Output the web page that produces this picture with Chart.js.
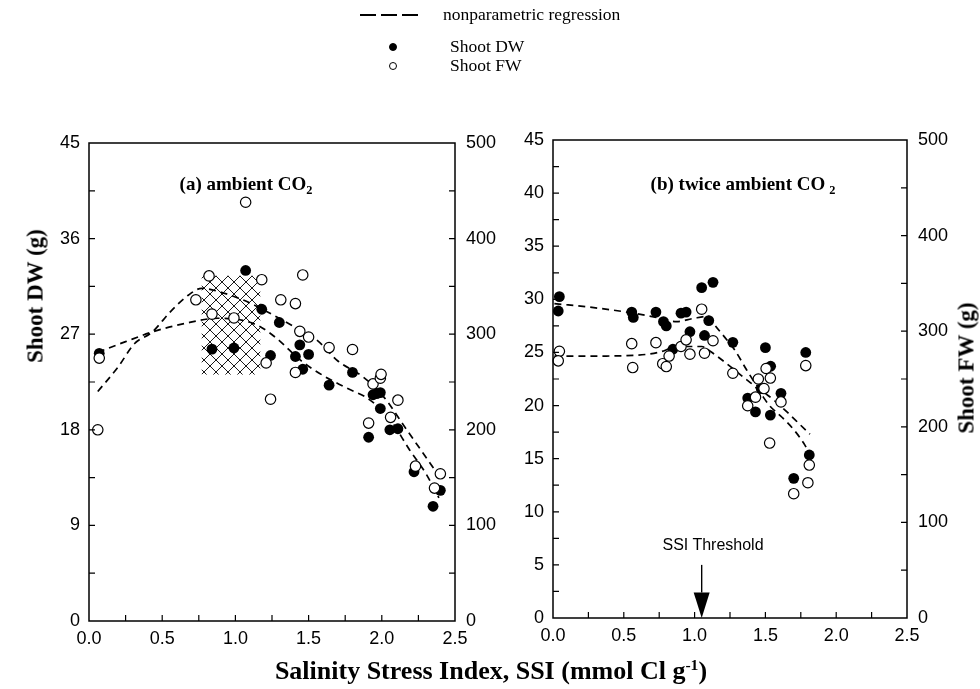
<!DOCTYPE html>
<html>
<head>
<meta charset="utf-8">
<title>Shoot DW / FW vs Salinity Stress Index</title>
<script src="https://cdn.jsdelivr.net/npm/chart.js@4.4.1/dist/chart.umd.min.js"></script>
<style>
  html, body { margin: 0; padding: 0; background: #fff; }
  #page { position: relative; width: 980px; height: 689px; overflow: hidden; background: #fff;
          font-family: 'Liberation Serif', 'Times New Roman', serif; color: #000; }
  .panel { position: absolute; top: 0; left: 0; width: 980px; height: 689px; }
  .lbl { position: absolute; white-space: nowrap; line-height: 1; }
  .center { transform: translate(-50%, -50%); }
  .leftmid { transform: translateY(-50%); }
  .legend { font-size: 17.5px; }
  .ptitle { font-size: 19px; font-weight: bold; }
  .axtitle { font-size: 23px; font-weight: bold; }
  .xtitle { font-size: 26px; font-weight: bold; }
  .rot { transform: translate(-50%, -50%) rotate(-90deg); }
  .sub { font-size: 0.65em; position: relative; top: 0.35em; }
  .sup { font-size: 0.6em; position: relative; top: -0.6em; }
  .dash { position: absolute; height: 2px; width: 58px;
          background: repeating-linear-gradient(to right, #000 0 16px, transparent 16px 21px); }
  .dot { position: absolute; width: 8px; height: 8px; border-radius: 50%; box-sizing: border-box;
         transform: translate(-50%, -50%); border: 1px solid #000; }
  .sans { font-family: 'Liberation Sans', Arial, sans-serif; font-size: 16px; }
</style>
</head>
<body>
<div id="page">
  <div class="panel"><canvas id="chartA" width="980" height="689"></canvas></div>
  <div class="panel"><canvas id="chartB" width="980" height="689"></canvas></div>

  <div class="dash" style="left:360px; top:14px"></div>
  <div class="lbl legend leftmid" style="left:443px; top:15px">nonparametric regression</div>
  <div class="dot" style="left:393px; top:47px; background:#000"></div>
  <div class="lbl legend leftmid" style="left:450px; top:47px">Shoot DW</div>
  <div class="dot" style="left:393px; top:66px; background:#fff"></div>
  <div class="lbl legend leftmid" style="left:450px; top:66px">Shoot FW</div>

  <div class="lbl ptitle center" style="left:246px; top:183px">(a) ambient CO<span class="sub">2</span></div>
  <div class="lbl ptitle center" style="left:743px; top:183px">(b) twice ambient CO<span class="sub" style="margin-left:4px">2</span></div>

  <div class="lbl axtitle rot" style="left:35px; top:296px">Shoot DW (g)</div>
  <div class="lbl axtitle rot" style="left:966px; top:368px">Shoot FW (g)</div>
  <div class="lbl xtitle center" style="left:491px; top:671px">Salinity Stress Index, SSI (mmol Cl g<span class="sup">-1</span>)</div>

  <div class="lbl sans center" style="left:713px; top:545px">SSI Threshold</div>
</div>

<script>
// (a) ambient CO2 : measured points
const ssiDwA = [0.07, 0.84, 0.99, 1.07, 1.18, 1.24, 1.30, 1.41, 1.44, 1.46, 1.50, 1.64, 1.80, 1.91, 1.94, 1.965, 1.99, 1.99, 2.055, 2.11, 2.22, 2.35, 2.40];
const dwA = [25.2, 25.6, 25.7, 33.0, 29.35, 25.0, 28.1, 24.9, 26.0, 23.7, 25.1, 22.2, 23.4, 17.3, 21.3, 21.4, 21.5, 20.0, 18.0, 18.1, 14.05, 10.8, 12.3];
const ssiFwA = [0.07, 0.06, 0.73, 0.82, 0.84, 0.99, 1.07, 1.18, 1.21, 1.24, 1.31, 1.41, 1.41, 1.44, 1.46, 1.50, 1.64, 1.80, 1.91, 1.94, 1.99, 1.995, 2.06, 2.11, 2.23, 2.36, 2.40];
const fwA = [275, 200, 336, 361, 321, 317, 438, 357, 270, 232, 336, 332, 260, 303, 362, 297, 286, 284, 207, 248, 254, 258, 213, 231, 162, 139, 154];

// (a) nonparametric regression curves
const ssiDwFitA = [0.06, 0.25, 0.43, 0.65, 0.88, 1.05, 1.17, 1.30, 1.44, 1.60, 1.75, 1.92, 2.06, 2.19, 2.30, 2.39];
const dwFitA = [25.3, 26.3, 27.2, 28.0, 28.5, 28.3, 27.7, 26.4, 24.6, 23.1, 22.0, 20.8, 18.9, 16.1, 13.9, 11.6];
const ssiFwFitA = [0.06, 0.20, 0.31, 0.43, 0.565, 0.68, 0.77, 0.92, 1.05, 1.21, 1.40, 1.555, 1.70, 1.875, 2.01, 2.17, 2.33, 2.41];
const fwFitA = [240, 266, 290, 302, 325, 341, 348, 343, 336, 324, 308, 294, 272, 255, 235, 200, 165, 147];

// (a) cross-hatched block (SSI range, DW range)
const hatchSsiA = [0.77, 1.17];
const hatchDwA = [23.2, 32.5];

// (b) twice ambient CO2 : measured points
const ssiDwB = [0.045, 0.037, 0.556, 0.567, 0.727, 0.78, 0.80, 0.847, 0.904, 0.94, 0.967, 1.05, 1.07, 1.10, 1.13, 1.27, 1.375, 1.43, 1.47, 1.50, 1.535, 1.537, 1.61, 1.70, 1.785, 1.81];
const dwB = [30.25, 28.9, 28.8, 28.3, 28.8, 27.9, 27.5, 25.3, 28.7, 28.8, 26.95, 31.1, 26.6, 28.0, 31.6, 25.95, 20.7, 19.4, 21.6, 25.45, 19.1, 23.7, 21.15, 13.15, 25.0, 15.35];
const ssiFwB = [0.045, 0.037, 0.556, 0.563, 0.727, 0.775, 0.80, 0.82, 0.904, 0.94, 0.967, 1.05, 1.07, 1.13, 1.27, 1.375, 1.43, 1.45, 1.49, 1.505, 1.53, 1.535, 1.61, 1.70, 1.785, 1.80, 1.81];
const fwB = [279, 269, 287, 262, 288, 266, 263, 274, 284, 291, 276, 323, 277, 290, 256, 222, 231, 250, 240, 261, 183, 251, 226, 130, 264, 141.5, 160];

// (b) nonparametric regression curves
const ssiDwFitB = [0.01, 0.30, 0.567, 0.73, 0.873, 0.99, 1.10, 1.13, 1.227, 1.285, 1.368, 1.44, 1.57, 1.66, 1.745, 1.815];
const dwFitB = [29.6, 29.2, 28.7, 28.3, 27.9, 28.2, 28.4, 27.8, 26.2, 25.2, 23.35, 21.9, 20.4, 19.3, 18.2, 17.3];
const ssiFwFitB = [0.01, 0.30, 0.60, 0.75, 0.85, 0.95, 1.05, 1.11, 1.227, 1.344, 1.44, 1.53, 1.617, 1.70, 1.77, 1.815];
const fwFitB = [274, 274, 275, 278, 283, 284, 284, 279, 266, 252, 240, 222, 210, 197, 183, 171];

// SSI threshold arrow (SSI, DW top of shaft, DW top of head)
const thresholdSsi = 1.05;
const thresholdDw = [5.0, 2.4];

const ssiRange = [0, 2.5];
const dwRange = [0, 45];
const fwRange = [0, 500];

document.addEventListener('DOMContentLoaded', () => {
  const tickFont = { family: "'Liberation Sans', Arial, sans-serif", size: 18 };

  const pts = (xs, ys) => xs.map((x, i) => ({ x, y: ys[i] }));

  function hatchPattern(ctx) {
    const c = document.createElement('canvas');
    c.width = 12; c.height = 12;
    const g = c.getContext('2d');
    g.strokeStyle = '#000';
    g.lineWidth = 0.9;
    g.beginPath();
    g.moveTo(-1, -1); g.lineTo(13, 13);
    g.moveTo(13, -1); g.lineTo(-1, 13);
    g.stroke();
    return ctx.createPattern(c, 'repeat');
  }

  // box, inward ticks, hatch block, threshold arrow
  const frame = {
    id: 'frame',
    beforeDatasetsDraw(chart, args, opts) {
      if (!opts.hatch) return;
      const { ctx, scales: { x, y } } = chart;
      const x0 = x.getPixelForValue(opts.hatch.x[0]), x1 = x.getPixelForValue(opts.hatch.x[1]);
      const y0 = y.getPixelForValue(opts.hatch.y[1]), y1 = y.getPixelForValue(opts.hatch.y[0]);
      ctx.save();
      ctx.fillStyle = hatchPattern(ctx);
      ctx.fillRect(x0, y0, x1 - x0, y1 - y0);
      ctx.restore();
    },
    afterDraw(chart, args, opts) {
      const { ctx, chartArea: a, scales } = chart;
      ctx.save();
      ctx.strokeStyle = '#000';
      ctx.lineWidth = 1.5;
      ctx.strokeRect(a.left, a.top, a.right - a.left, a.bottom - a.top);

      const len = 6;
      const each = (scale, step, fn) => {
        const n = Math.round((scale.max - scale.min) / step);
        for (let i = 1; i < n; i++) fn(scale.getPixelForValue(scale.min + i * step));
      };
      ctx.lineWidth = 1.2;
      ctx.beginPath();
      each(scales.x, opts.xMinor, p => { ctx.moveTo(p, a.bottom); ctx.lineTo(p, a.bottom - len); });
      each(scales.y, opts.yMinor, p => { ctx.moveTo(a.left, p); ctx.lineTo(a.left + len, p); });
      each(scales.y2, opts.y2Minor, p => { ctx.moveTo(a.right, p); ctx.lineTo(a.right - len, p); });
      ctx.stroke();

      if (opts.arrow) {
        const px = scales.x.getPixelForValue(opts.arrow.x);
        const top = scales.y.getPixelForValue(opts.arrow.y[0]);
        const head = scales.y.getPixelForValue(opts.arrow.y[1]);
        const tip = scales.y.getPixelForValue(0);
        ctx.lineWidth = 1.4;
        ctx.beginPath();
        ctx.moveTo(px, top); ctx.lineTo(px, head);
        ctx.stroke();
        ctx.fillStyle = '#000';
        ctx.beginPath();
        ctx.moveTo(px - 8, head); ctx.lineTo(px + 8, head); ctx.lineTo(px, tip);
        ctx.closePath();
        ctx.fill();
      }
      ctx.restore();
    }
  };

  function makeChart(id, p) {
    const ctx = document.getElementById(id).getContext('2d');
    return new Chart(ctx, {
      type: 'scatter',
      data: {
        datasets: [
          { data: pts(p.ssiFw, p.fw), yAxisID: 'y2', pointRadius: 5.2, pointBorderWidth: 1.2,
            pointBackgroundColor: '#fff', pointBorderColor: '#000', clip: false },
          { data: pts(p.ssiDw, p.dw), yAxisID: 'y', pointRadius: 5.4, pointBorderWidth: 0,
            pointBackgroundColor: '#000', pointBorderColor: '#000', clip: false },
          { data: pts(p.ssiDwFit, p.dwFit), yAxisID: 'y', showLine: true, pointRadius: 0,
            borderColor: '#000', borderWidth: 1.7, borderDash: [7, 5], cubicInterpolationMode: 'monotone' },
          { data: pts(p.ssiFwFit, p.fwFit), yAxisID: 'y2', showLine: true, pointRadius: 0,
            borderColor: '#000', borderWidth: 1.7, borderDash: [7, 5], cubicInterpolationMode: 'monotone' }
        ]
      },
      options: {
        responsive: false,
        animation: false,
        events: [],
        layout: { padding: p.padding },
        plugins: {
          legend: { display: false },
          tooltip: { enabled: false },
          frame: { xMinor: 0.25, yMinor: p.yMinor, y2Minor: 50, hatch: p.hatch, arrow: p.arrow }
        },
        scales: {
          x: {
            type: 'linear', position: 'bottom', min: ssiRange[0], max: ssiRange[1],
            grid: { display: false, drawTicks: false }, border: { display: false },
            ticks: { stepSize: 0.5, maxRotation: 0, color: '#000', font: tickFont, padding: 7,
                     callback: v => v.toFixed(1) },
            afterFit: s => { s.height = 30; }
          },
          y: {
            position: 'left', min: dwRange[0], max: dwRange[1],
            grid: { display: false, drawTicks: false }, border: { display: false },
            ticks: { stepSize: p.yStep, color: '#000', font: tickFont, padding: 9 },
            afterFit: s => { s.width = 40; }
          },
          y2: {
            position: 'right', min: fwRange[0], max: fwRange[1],
            grid: { display: false, drawTicks: false }, border: { display: false },
            ticks: { stepSize: 100, color: '#000', font: tickFont, padding: 11 },
            afterFit: s => { s.width = p.y2Width; }
          }
        }
      },
      plugins: [frame]
    });
  }

  // both canvases span the page; padding places each plot box
  makeChart('chartA', {
    ssiDw: ssiDwA, dw: dwA, ssiFw: ssiFwA, fw: fwA,
    ssiDwFit: ssiDwFitA, dwFit: dwFitA, ssiFwFit: ssiFwFitA, fwFit: fwFitA,
    yStep: 9, yMinor: 4.5, y2Width: 50,
    hatch: { x: hatchSsiA, y: hatchDwA },
    padding: { left: 49, right: 475, top: 143, bottom: 38 }
  });

  makeChart('chartB', {
    ssiDw: ssiDwB, dw: dwB, ssiFw: ssiFwB, fw: fwB,
    ssiDwFit: ssiDwFitB, dwFit: dwFitB, ssiFwFit: ssiFwFitB, fwFit: fwFitB,
    yStep: 5, yMinor: 2.5, y2Width: 55,
    arrow: { x: thresholdSsi, y: thresholdDw },
    padding: { left: 513, right: 18, top: 140, bottom: 41 }
  });
});
</script>
</body>
</html>
